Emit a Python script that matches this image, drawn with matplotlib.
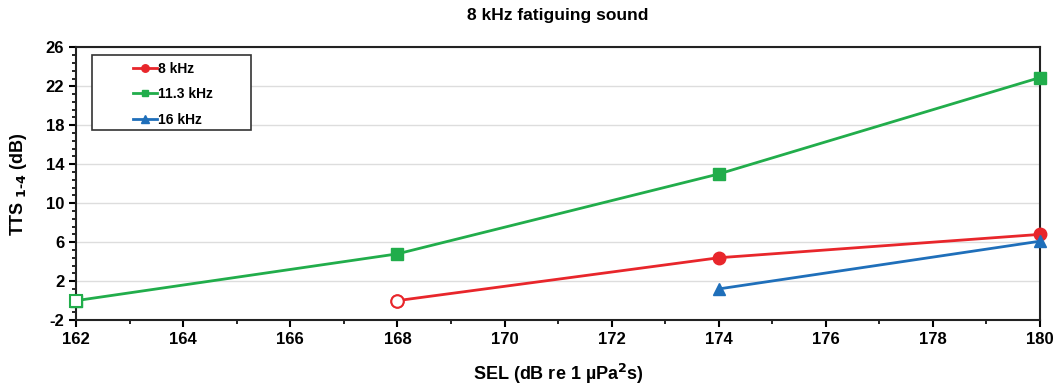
import matplotlib
matplotlib.use("Agg")
import matplotlib.pyplot as plt
from matplotlib.ticker import MultipleLocator, AutoMinorLocator
from matplotlib.patches import Rectangle

plt.rcParams['font.family'] = ['Liberation Sans', 'DejaVu Sans']
plt.rcParams['font.weight'] = 'bold'
plt.rcParams['axes.unicode_minus'] = False

# data
sel_8 = [168, 174, 180]
tts_8 = [0.0, 4.4, 6.8]
sel_11 = [162, 168, 174, 180]
tts_11 = [0.0, 4.8, 13.0, 22.9]
sel_16 = [174, 180]
tts_16 = [1.2, 6.1]
y_ticks = [-2, 2, 6, 10, 14, 18, 22, 26]

red = '#e8262b'
green = '#21ad4b'
blue = '#1f6fba'

fig, ax = plt.subplots(figsize=(10.58, 3.88), dpi=100)
fig.subplots_adjust(left=0.072, right=0.983, top=0.878, bottom=0.175)

ax.plot(sel_8, tts_8, color=red, lw=2, marker='o', ms=9, label='8 kHz', zorder=3, clip_on=False)
ax.plot(sel_11, tts_11, color=green, lw=2, marker='s', ms=8, label='11.3 kHz', zorder=3, clip_on=False)
ax.plot(sel_16, tts_16, color=blue, lw=2, marker='^', ms=9, label='16 kHz', zorder=3, clip_on=False)

# open markers for the first points
ax.plot(sel_8[0], tts_8[0], ls='none', marker='o', ms=9, mfc='white', mec=red, mew=1.5,
        zorder=4, clip_on=False)
ax.plot(sel_11[0], tts_11[0], ls='none', marker='s', ms=8, mfc='white', mec=green, mew=1.5,
        zorder=4, clip_on=False)

ax.set_xlim(162, 180)
ax.set_ylim(-2, 26)
ax.xaxis.set_major_locator(MultipleLocator(2))
ax.xaxis.set_minor_locator(MultipleLocator(1))
ax.set_yticks(y_ticks)
ax.yaxis.set_minor_locator(AutoMinorLocator(5))
ax.tick_params(axis='both', which='major', direction='out', length=5, width=1.5, labelsize=12)
ax.tick_params(axis='both', which='minor', direction='out', length=3, width=1.2)
ax.grid(axis='y', color='#dddddd', lw=1)
ax.set_axisbelow(True)
for s in ax.spines.values():
    s.set_linewidth(1.5)
    s.set_color('#222222')

ax.set_title('8 kHz fatiguing sound', fontsize=12.5, fontweight='bold', pad=20)
ax.set_xlabel('SEL (dB re 1 µPa$^{\\mathbf{2}}$s)', fontsize=13, fontweight='bold', labelpad=11)
ax.set_ylabel('TTS$_{\\mathbf{\\ 1\\text{-}4}}$ (dB)', fontsize=13, fontweight='bold', labelpad=12)

# legend box drawn by hand so it is as wide as the reference one
ax.add_patch(Rectangle((0.016, 0.696), 0.165, 0.275, transform=ax.transAxes,
                       fill=True, facecolor='white', edgecolor='#333333', lw=1.2, zorder=5))
leg = ax.legend(loc='upper left', bbox_to_anchor=(0.059, 0.948), fontsize=10, markerscale=0.6,
                handlelength=1.7, handletextpad=0.1, labelspacing=0.83, borderpad=0,
                borderaxespad=0, frameon=False)
leg.set_zorder(6)
for t in leg.get_texts():
    t.set_fontweight('bold')

plt.savefig('out.png', dpi=100)
